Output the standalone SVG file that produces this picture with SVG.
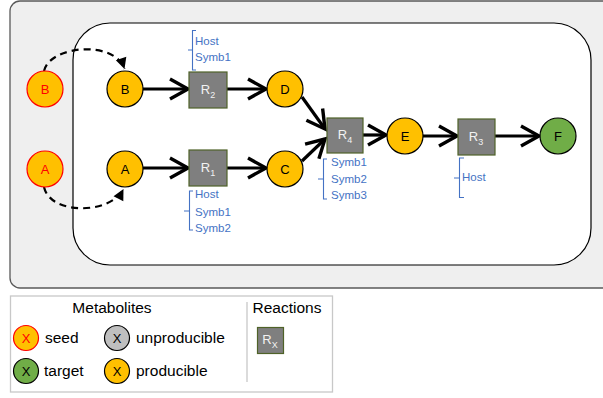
<svg xmlns="http://www.w3.org/2000/svg" width="603" height="398" viewBox="0 0 603 398">
<style>
text{font-family:"Liberation Sans",Arial,sans-serif}
.met{stroke:#000;stroke-width:1.2}
.prod{fill:#ffc000}
.seed{fill:#ffc000;stroke:#ff0000;stroke-width:1.2}
.tgt{fill:#70ad47}
.unp{fill:#bfbfbf}
.rx{fill:#7f7f7f;stroke:#4f6228;stroke-width:1.2}
.lbl{font-size:13px;fill:#000;text-anchor:middle}
.slbl{font-size:13px;fill:#ff0000;text-anchor:middle}
.rlbl{font-size:13px;fill:#f2f2f2;text-anchor:middle}
.org{font-size:11.5px;fill:#4472c4}
.brace{fill:none;stroke:#4472c4;stroke-width:1.1}
.edge{fill:none;stroke:#000;stroke-width:3.2;marker-end:url(#chev)}
.dash{fill:none;stroke:#000;stroke-width:2.2;stroke-dasharray:7,5;marker-end:url(#tri)}
.leg{font-size:15.5px;fill:#000}
</style>
<defs>
<marker id="chev" viewBox="-22 -13 26 26" refX="0" refY="0" markerWidth="26" markerHeight="26" markerUnits="userSpaceOnUse" orient="auto">
<path d="M-18,-10 L0,0 L-18,10" fill="none" stroke="#000" stroke-width="3.4"/>
</marker>
<marker id="tri" viewBox="-12 -7 14 14" refX="0" refY="0" markerWidth="14" markerHeight="14" markerUnits="userSpaceOnUse" orient="auto">
<path d="M-11,-5.5 L0,0 L-11,5.5 z" fill="#000"/>
</marker>
</defs>
<g id="background">
<rect x="10" y="1" width="605" height="287" rx="10" fill="#efefef" stroke="#595959" stroke-width="1.3"/>
<rect x="73" y="23" width="518" height="242" rx="37" fill="#ffffff" stroke="#000" stroke-width="1.2"/>
</g>
<g id="connectors">
<path class="dash" d="M44,71 C50,45 115,40 124.5,69"/>
<path class="dash" d="M44,187 C50,215 110,215 123.5,189"/>
<path class="edge" d="M143,89 L188,89"/>
<path class="edge" d="M227,89 L266,89"/>
<path class="edge" d="M143,168 L188,168"/>
<path class="edge" d="M227,168 L266,168"/>
<path class="edge" d="M302,97 L325,129"/>
<path class="edge" d="M302,161 L325,139"/>
<path class="edge" d="M363,135 L386,135"/>
<path class="edge" d="M423,136 L457,136"/>
<path class="edge" d="M495,136 L539,136"/>
</g>
<g id="seedB"><circle class="seed" cx="45" cy="89" r="18"/><text class="slbl" x="45" y="94">B</text></g>
<g id="seedA"><circle class="seed" cx="45" cy="169" r="18"/><text class="slbl" x="45" y="174">A</text></g>
<g id="B"><circle class="met prod" cx="125" cy="89" r="18"/><text class="lbl" x="125" y="94">B</text></g>
<g id="A"><circle class="met prod" cx="125" cy="169" r="18"/><text class="lbl" x="125" y="174">A</text></g>
<g id="D"><circle class="met prod" cx="285" cy="89" r="18"/><text class="lbl" x="285" y="94">D</text></g>
<g id="C"><circle class="met prod" cx="285" cy="169" r="18"/><text class="lbl" x="285" y="174">C</text></g>
<g id="E"><circle class="met prod" cx="405" cy="136" r="18"/><text class="lbl" x="405" y="141">E</text></g>
<g id="F"><circle class="met tgt" cx="558" cy="136" r="18"/><text class="lbl" x="558" y="141">F</text></g>
<g id="R2">
<rect class="rx" x="189" y="72" width="38" height="36"/>
<text class="rlbl" x="208" y="94">R<tspan font-size="9" dy="4">2</tspan></text>
<path class="brace" d="M196,30.5 L192.5,30.5 L192.5,50 L188,50 M192.5,50 L192.5,70 L196,70"/>
<text class="org" x="195" y="45">Host</text>
<text class="org" x="195" y="61">Symb1</text>
</g>
<g id="R1">
<rect class="rx" x="189" y="150" width="38" height="36"/>
<text class="rlbl" x="208" y="172">R<tspan font-size="9" dy="4">1</tspan></text>
<path class="brace" d="M193,191 L189.5,191 L189.5,211 L184,211 M189.5,211 L189.5,230 L193,230"/>
<text class="org" x="195" y="198">Host</text>
<text class="org" x="195" y="216">Symb1</text>
<text class="org" x="195" y="232">Symb2</text>
</g>
<g id="R4">
<rect class="rx" x="327" y="118" width="36" height="35"/>
<text class="rlbl" x="345" y="139">R<tspan font-size="9" dy="4">4</tspan></text>
<path class="brace" d="M327,159 L323.5,159 L323.5,179 L318,179 M323.5,179 L323.5,199 L327,199"/>
<text class="org" x="331" y="166">Symb1</text>
<text class="org" x="331" y="183">Symb2</text>
<text class="org" x="331" y="199">Symb3</text>
</g>
<g id="R3">
<rect class="rx" x="458" y="119" width="37" height="36"/>
<text class="rlbl" x="476" y="141">R<tspan font-size="9" dy="4">3</tspan></text>
<path class="brace" d="M464,158 L459.5,158 L459.5,178 L454,178 M459.5,178 L459.5,197.5 L464,197.5"/>
<text class="org" x="462" y="181">Host</text>
</g>
<g id="legend">
<rect x="10.5" y="296" width="322" height="96" fill="#fff" stroke="#c8c8c8" stroke-width="1.3"/>
<line x1="247" y1="302" x2="247" y2="382" stroke="#c8c8c8" stroke-width="1.3"/>
<text class="leg" x="112" y="313" text-anchor="middle">Metabolites</text>
<text class="leg" x="287" y="313" text-anchor="middle">Reactions</text>
<circle class="seed" cx="26" cy="338" r="12.5"/><text x="26" y="343" font-size="13" fill="#ff0000" text-anchor="middle">X</text>
<text class="leg" x="45" y="343">seed</text>
<circle class="met unp" cx="117" cy="338" r="12.5"/><text x="117" y="343" font-size="13" fill="#000" text-anchor="middle">X</text>
<text class="leg" x="136" y="343">unproducible</text>
<circle class="met tgt" cx="26" cy="371" r="12.5"/><text x="26" y="376" font-size="13" fill="#000" text-anchor="middle">X</text>
<text class="leg" x="44" y="376">target</text>
<circle class="met prod" cx="117" cy="371" r="12.5"/><text x="117" y="376" font-size="13" fill="#000" text-anchor="middle">X</text>
<text class="leg" x="136" y="376">producible</text>
<rect class="rx" x="257.5" y="327.5" width="26" height="26"/>
<text class="rlbl" x="270" y="344">R<tspan font-size="9" dy="4">X</tspan></text>
</g>
</svg>
